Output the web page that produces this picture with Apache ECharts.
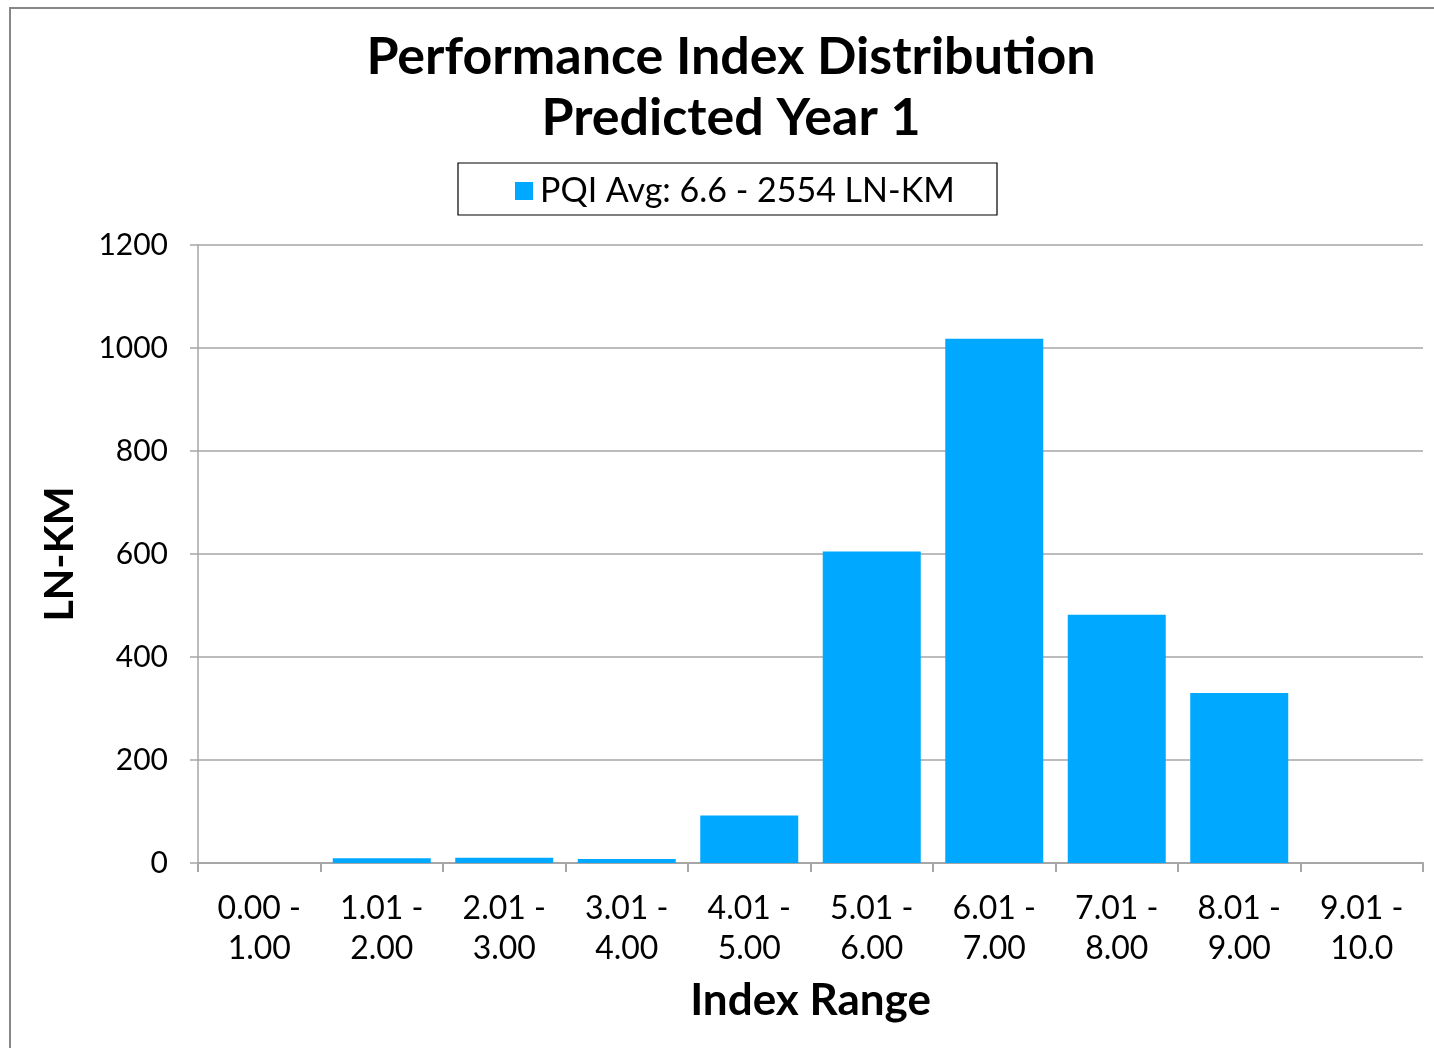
<!DOCTYPE html>
<html><head><meta charset="utf-8">
<script src="https://cdn.jsdelivr.net/npm/echarts@6/dist/echarts.min.js"></script>
<style>html,body{margin:0;padding:0;background:#fff}#c{width:1434px;height:1048px}</style>
</head><body><div id="c"></div>
<script>
const categories = ['0.00 -\n1.00','1.01 -\n2.00','2.01 -\n3.00','3.01 -\n4.00','4.01 -\n5.00','5.01 -\n6.00','6.01 -\n7.00','7.01 -\n8.00','8.01 -\n9.00','9.01 -\n10.0'];
const values = [0, 9, 10, 8, 92, 605, 1018, 482, 330, 0];
const seriesName = 'PQI Avg: 6.6 - 2554 LN-KM';
const titleText = 'Performance Index Distribution\nPredicted Year 1';
const xName = 'Index Range';
const yName = 'LN-KM';
const yTicks = [0, 200, 400, 600, 800, 1000, 1200];

const FONT = 'Lato, "DejaVu Sans", sans-serif';
const chart = echarts.init(document.getElementById('c'), null, {renderer:'canvas'});
chart.setOption({
  backgroundColor: '#fff',
  animation: false,
  graphic: [
    {type:'rect', shape:{x:10, y:8, width:1440, height:1060}, style:{fill:'none', stroke:'#878787', lineWidth:2}, silent:true},
    {type:'rect', shape:{x:458, y:163, width:539, height:52}, style:{fill:'none', stroke:'#000', lineWidth:1.2}, silent:true}
  ],
  title: {
    text: titleText, left: 726, top: 22, textAlign: 'center',
    textStyle: {fontFamily: FONT, fontSize: 52, fontWeight: 'bold', color: '#000', lineHeight: 61}
  },
  legend: {
    data: [seriesName], left: 510, top: 169, itemWidth: 18, itemHeight: 18, itemGap: 8,
    icon: 'rect',
    textStyle: {fontFamily: FONT, fontSize: 34, color: '#000', padding:[0,0,0,2]}
  },
  grid: {left: 198, right: 11, top: 245, bottom: 185, containLabel: false},
  xAxis: {
    type: 'category', data: categories,
    name: xName, nameLocation: 'middle', nameGap: 116,
    nameTextStyle: {fontFamily: FONT, fontSize: 44, fontWeight: 'bold', color: '#000'},
    axisLine: {lineStyle: {color: '#a6a6a6', width: 2}},
    axisTick: {show: true, length: 9, lineStyle: {color: '#a6a6a6', width: 2}, alignWithLabel: false},
    axisLabel: {fontFamily: FONT, fontSize: 32, color: '#000', lineHeight: 40, margin: 26, interval: 0}
  },
  yAxis: {
    type: 'value', min: 0, max: 1200, interval: 200,
    name: yName, nameLocation: 'middle', nameGap: 118, nameRotate: 90,
    nameTextStyle: {fontFamily: FONT, fontSize: 41, fontWeight: 'bold', color: '#000'},
    axisLine: {show: true, lineStyle: {color: '#a6a6a6', width: 1.5}},
    axisTick: {show: true, length: 8, lineStyle: {color: '#a6a6a6', width: 1.5}},
    splitLine: {lineStyle: {color: '#a6a6a6', width: 1.5}},
    axisLabel: {fontFamily: FONT, fontSize: 30, color: '#000', margin: 30,
      formatter: v => yTicks.includes(v) ? String(v) : ''}
  },
  series: [{
    name: seriesName, type: 'bar', data: values,
    barCategoryGap: '20%',
    itemStyle: {color: '#00a8ff'}
  }]
});
</script></body></html>
